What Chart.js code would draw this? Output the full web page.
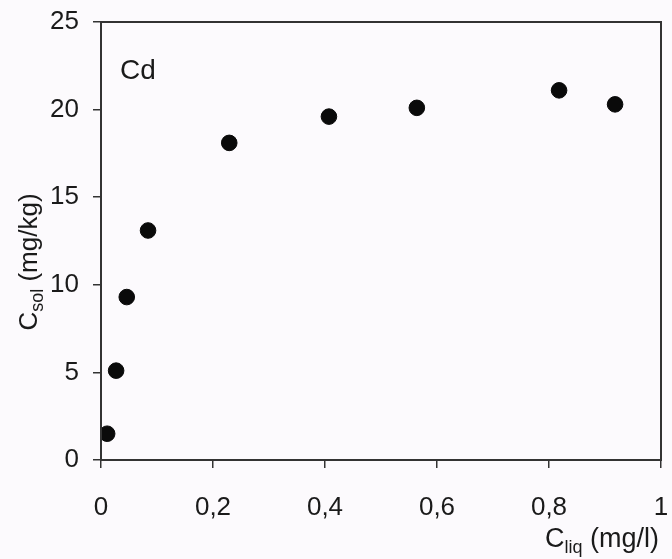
<!DOCTYPE html>
<html>
<head>
<meta charset="utf-8">
<script src="https://cdn.jsdelivr.net/npm/chart.js@4/dist/chart.umd.min.js"></script>
<style>
html,body{margin:0;padding:0;background:#fcfafd;}
#wrap{width:672px;height:559px;}
</style>
</head>
<body>
<div id="wrap"><canvas id="c" width="672" height="559"></canvas></div>
<script>
const cliq = [0.011, 0.027, 0.046, 0.084, 0.229, 0.407, 0.564, 0.818, 0.918];
const csol = [1.5, 5.1, 9.3, 13.1, 18.1, 19.6, 20.1, 21.1, 20.3];
const xTickLabels = ['0', '0,2', '0,4', '0,6', '0,8', '1'];
const yTickLabels = ['0', '5', '10', '15', '20', '25'];
const panelLabel = 'Cd';
const xTitle = ['C', 'liq', ' (mg/l)'];
const yTitle = ['C', 'sol', ' (mg/kg)'];

const FONT = '"Liberation Sans", Arial, sans-serif';
const AX = '#333333';

function drawSub(ctx, parts, x, y, big, small) {
  ctx.font = big + 'px ' + FONT;
  ctx.fillText(parts[0], x, y);
  let w = ctx.measureText(parts[0]).width;
  ctx.font = small + 'px ' + FONT;
  ctx.fillText(parts[1], x + w, y + 6);
  w += ctx.measureText(parts[1]).width;
  ctx.font = big + 'px ' + FONT;
  ctx.fillText(parts[2], x + w, y);
}
function subWidth(ctx, parts, big, small) {
  ctx.font = big + 'px ' + FONT;
  let w = ctx.measureText(parts[0]).width + ctx.measureText(parts[2]).width;
  ctx.font = small + 'px ' + FONT;
  return w + ctx.measureText(parts[1]).width;
}

const decor = {
  id: 'decor',
  beforeDraw(chart) {
    const ctx = chart.ctx;
    ctx.save();
    ctx.fillStyle = '#fcfafd';
    ctx.fillRect(0, 0, chart.width, chart.height);
    ctx.restore();
  },
  afterDraw(chart) {
    const ctx = chart.ctx;
    const a = chart.chartArea;
    ctx.save();
    ctx.strokeStyle = AX;
    ctx.lineWidth = 2;
    ctx.strokeRect(a.left, a.top, a.right - a.left, a.bottom - a.top);
    ctx.fillStyle = '#1a1a1a';
    ctx.textBaseline = 'alphabetic';
    ctx.textAlign = 'left';
    ctx.font = '28px ' + FONT;
    ctx.fillText(panelLabel, a.left + 19, 79);
    // x title
    drawSub(ctx, xTitle, 545, 547, 27, 18);
    // y title
    ctx.save();
    ctx.translate(37, 262);
    ctx.rotate(-Math.PI / 2);
    const w = subWidth(ctx, yTitle, 26, 18);
    drawSub(ctx, yTitle, -w / 2, 0, 26, 18);
    ctx.restore();
    ctx.restore();
  }
};

new Chart(document.getElementById('c'), {
  type: 'scatter',
  data: {
    datasets: [{
      data: cliq.map((x, i) => ({x: x, y: csol[i]})),
      backgroundColor: '#0a0a0a',
      borderColor: '#0a0a0a',
      pointRadius: 7.8,
      pointHoverRadius: 7.8
    }]
  },
  options: {
    responsive: false,
    animation: false,
    devicePixelRatio: 1,
    layout: {padding: {top: 22, right: 11, left: 0, bottom: 0}},
    plugins: {legend: {display: false}, tooltip: {enabled: false}},
    scales: {
      x: {
        type: 'linear', min: 0, max: 1,
        afterFit: s => { s.height = 99; s.paddingLeft = 0; s.paddingRight = 0; },
        border: {display: true, color: AX, width: 2},
        grid: {drawOnChartArea: false, drawTicks: true, tickLength: 8, color: AX, lineWidth: 1.5},
        ticks: {
          stepSize: 0.2, padding: 24, color: '#1a1a1a',
          font: {family: FONT, size: 26},
          callback: (v, i) => xTickLabels[i]
        }
      },
      y: {
        type: 'linear', min: 0, max: 25,
        afterFit: s => { s.width = 101; s.paddingTop = 0; s.paddingBottom = 0; },
        border: {display: true, color: AX, width: 2},
        grid: {drawOnChartArea: false, drawTicks: true, tickLength: 8, color: AX, lineWidth: 1.5},
        ticks: {
          stepSize: 5, padding: 14, color: '#1a1a1a',
          font: {family: FONT, size: 26},
          callback: (v, i) => yTickLabels[i]
        }
      }
    }
  },
  plugins: [decor]
});
</script>
</body>
</html>
